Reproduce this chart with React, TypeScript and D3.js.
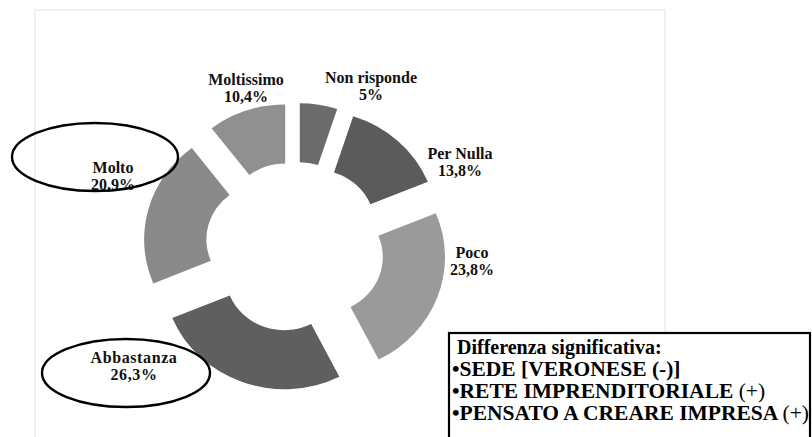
import React from "react";
import * as d3 from "d3";

const categories = ["Non risponde", "Per Nulla", "Poco", "Abbastanza", "Molto", "Moltissimo"];
const values = [5, 13.8, 23.8, 26.3, 20.9, 10.4];
const valueLabels = ["5%", "13,8%", "23,8%", "26,3%", "20,9%", "10,4%"];
const colors = ["#6b6b6b", "#5b5b5b", "#9a9a9a", "#5f5f5f", "#8a8a8a", "#909090"];
const labelPos: [number, number][] = [
  [371, 83],
  [460, 159],
  [472, 258],
  [134, 363],
  [113, 173],
  [246, 85],
];
const highlighted = ["Molto", "Abbastanza"];
const ellipses: [number, number, number, number][] = [
  [95, 157, 83, 34],
  [126, 373, 84, 34],
];
const boxTitle = "Differenza significativa:";
const boxItems: [string, string][] = [
  ["•SEDE [VERONESE (-)]", ""],
  ["•RETE IMPRENDITORIALE ", "(+)"],
  ["•PENSATO A CREARE IMPRESA ", "(+)"],
];

const W = 812;
const H = 437;
const cx = 295;
const cy = 247;
const sx = 1.055;
const R = 115;
const r = 56;
const explode = 29;
const font = "Liberation Serif, Times New Roman, serif";

export default function App() {
  const pie = d3
    .pie<number>()
    .sort(null)
    .value((v) => v);
  const arcs = pie(values);
  const arcGen = d3
    .arc<d3.PieArcDatum<number>>()
    .innerRadius(r)
    .outerRadius(R);

  return (
    <svg
      width={W}
      height={H}
      style={{ position: "absolute", left: 0, top: 0, background: "#fff", fontFamily: font }}
    >
      <rect x={35} y={10} width={630} height={440} fill="none" stroke="#ececec" strokeWidth={1.5} />
      <g transform={`translate(${cx},${cy}) scale(${sx},1)`}>
        {arcs.map((a, i) => {
          const mid = (a.startAngle + a.endAngle) / 2;
          const dx = explode * Math.sin(mid);
          const dy = -explode * Math.cos(mid);
          return (
            <path
              key={categories[i]}
              d={arcGen(a) || ""}
              transform={`translate(${dx},${dy})`}
              fill={colors[i]}
            />
          );
        })}
      </g>
      {categories.map((c, i) => (
        <text
          key={c}
          x={labelPos[i][0]}
          y={labelPos[i][1]}
          textAnchor="middle"
          fontSize={16}
          fontWeight="bold"
          fill="#111"
          style={{ fontFamily: font }}
          letterSpacing={c === "Abbastanza" ? 0.6 : 0}
        >
          <tspan x={labelPos[i][0]}>{c}</tspan>
          <tspan x={labelPos[i][0]} dy={17}>
            {valueLabels[i]}
          </tspan>
        </text>
      ))}
      {highlighted.map((h, i) => (
        <ellipse
          key={h}
          cx={ellipses[i][0]}
          cy={ellipses[i][1]}
          rx={ellipses[i][2]}
          ry={ellipses[i][3]}
          fill="none"
          stroke="#000"
          strokeWidth={2.4}
        />
      ))}
      <rect x={449} y={333} width={361} height={120} fill="#fff" stroke="#000" strokeWidth={2.2} />
      <text x={457} y={354} fontSize={20} fontWeight="bold" fill="#000" style={{ fontFamily: font }}>
        {boxTitle}
      </text>
      {boxItems.map((it, i) => (
        <text
          key={it[0]}
          x={452}
          y={376 + i * 22}
          fontSize={21.5}
          fontWeight="bold"
          fill="#000"
          style={{ fontFamily: font }}
        >
          {it[0]}
          {it[1] && <tspan fontWeight="normal">{it[1]}</tspan>}
        </text>
      ))}
    </svg>
  );
}
